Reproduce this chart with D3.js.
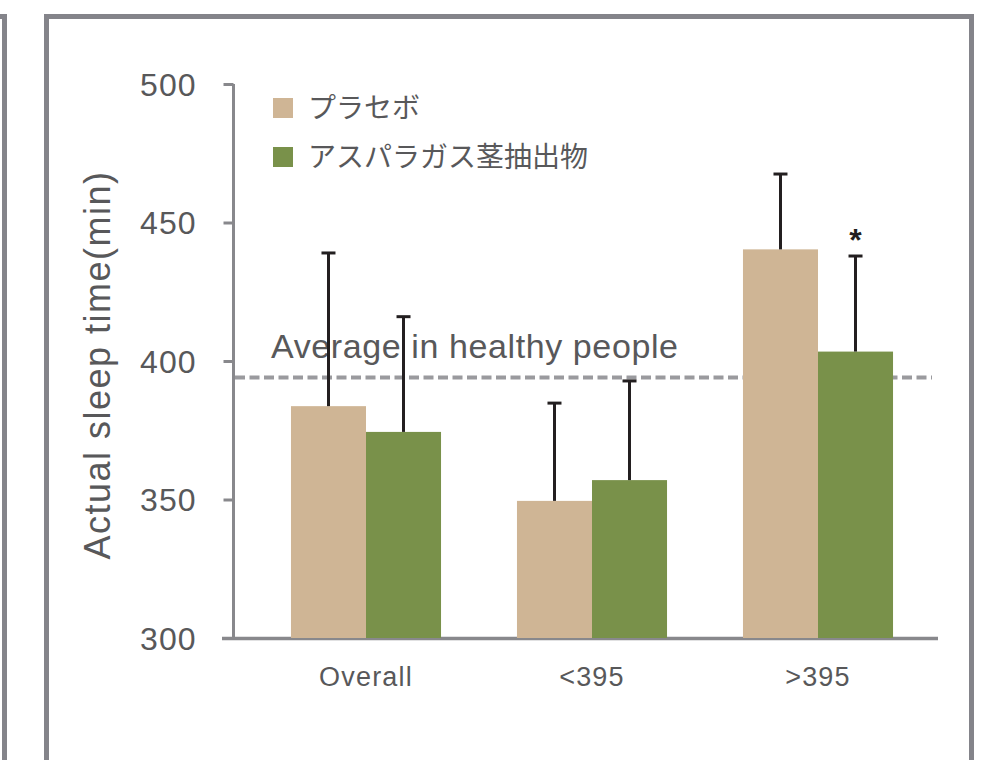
<!DOCTYPE html>
<html>
<head>
<meta charset="utf-8">
<script src="https://cdn.jsdelivr.net/npm/d3@7"></script>
<style>
  html, body { margin: 0; padding: 0; background: #fff; }
  svg text { font-family: "Liberation Sans", Arial, sans-serif; }
  .jp { font-family: "Noto Sans CJK JP", sans-serif; }
</style>
</head>
<body>
<svg id="svg" width="1005" height="760"></svg>
<script>
const categories = ["Overall", "<395", ">395"];
const seriesNames = ["プラセボ", "アスパラガス茎抽出物"];
const seriesColors = ["#cfb595", "#79914a"];
const placeboMeans = [383.7, 349.5, 440.3];
const placeboErr = [55.3, 35.3, 27.2];
const extractMeans = [374.4, 357.0, 403.4];
const extractErr = [41.6, 35.8, 34.5];
const extractSig = ["", "", "*"];
const healthyAverage = 394;
const yTicks = [300, 350, 400, 450, 500];

const svg = d3.select("#svg");
const textColor = "#58585a";
const axisColor = "#88888c";

// panel frames
svg.append("rect")
    .attr("x", 46.5).attr("y", 16.5)
    .attr("width", 925).attr("height", 800)
    .attr("fill", "none").attr("stroke", "#84848a").attr("stroke-width", 5);
svg.append("path")
    .attr("d", "M-5,16.5H4.5V770")
    .attr("fill", "none").attr("stroke", "#84848a").attr("stroke-width", 5);

// scales
const y = d3.scaleLinear().domain([300, 500]).range([638, 84]);
const x = d3.scaleBand().domain(categories)
    .range([253, 931]).paddingInner(0.336).paddingOuter(0.168);
const xSub = d3.scaleBand().domain([0, 1]).range([0, x.bandwidth()]);

const rows = categories.map((c, i) => ({
    cat: c,
    values: [
        { s: 0, mean: placeboMeans[i], err: placeboErr[i], sig: "" },
        { s: 1, mean: extractMeans[i], err: extractErr[i], sig: extractSig[i] }
    ]
}));

// y axis
const yAxis = svg.append("g")
    .attr("transform", "translate(233.5,0)")
    .call(d3.axisLeft(y).tickValues(yTicks).tickSize(10).tickPadding(0).tickFormat(d3.format("d")));
yAxis.select(".domain").attr("stroke", axisColor).attr("stroke-width", 3)
    .attr("d", "M0," + y(500) + "V" + y(300));
yAxis.selectAll(".tick line").attr("stroke", axisColor).attr("stroke-width", 3);
yAxis.selectAll(".tick text")
    .attr("x", -37)
    .attr("dy", "0.35em")
    .attr("fill", textColor)
    .style("font-size", "32px")
    .style("letter-spacing", "1px")
    .style("font-family", "'Liberation Sans', Arial, sans-serif");

// x axis
const xAxis = svg.append("g")
    .attr("transform", "translate(0," + (y(300) + 0.5) + ")")
    .call(d3.axisBottom(x).tickSize(0).tickPadding(0));
xAxis.select(".domain").attr("stroke", axisColor).attr("stroke-width", 3.5)
    .attr("d", "M222,0H938");
xAxis.selectAll(".tick text")
    .attr("y", 38)
    .attr("dy", "0.35em")
    .attr("fill", textColor)
    .style("font-size", "27px")
    .style("letter-spacing", "1.2px")
    .style("font-family", "'Liberation Sans', Arial, sans-serif");

// healthy average line
svg.append("line")
    .attr("x1", 235).attr("x2", 932)
    .attr("y1", y(healthyAverage)).attr("y2", y(healthyAverage))
    .attr("stroke", "#9a9a9e").attr("stroke-width", 4)
    .attr("stroke-dasharray", "10,4.5");
svg.append("text")
    .attr("x", 271).attr("y", y(healthyAverage) - 32)
    .attr("dy", "0.35em")
    .attr("fill", textColor)
    .style("font-size", "34px")
    .style("letter-spacing", "0.6px")
    .text("Average in healthy people");

// bars
const groups = svg.append("g").selectAll("g")
    .data(rows)
    .join("g")
    .attr("transform", d => "translate(" + x(d.cat) + ",0)");

groups.selectAll("rect")
    .data(d => d.values)
    .join("rect")
    .attr("x", d => xSub(d.s))
    .attr("y", d => y(d.mean))
    .attr("width", xSub.bandwidth())
    .attr("height", d => y(300) - y(d.mean))
    .attr("fill", d => seriesColors[d.s]);

// error bars
const err = groups.selectAll(".err")
    .data(d => d.values)
    .join("g")
    .attr("class", "err")
    .attr("transform", d => "translate(" + (xSub(d.s) + xSub.bandwidth() / 2) + ",0)");
err.append("line")
    .attr("x1", 0).attr("x2", 0)
    .attr("y1", d => y(d.mean))
    .attr("y2", d => y(d.mean + d.err))
    .attr("stroke", "#231f20").attr("stroke-width", 3);
err.append("line")
    .attr("x1", -7).attr("x2", 7)
    .attr("y1", d => y(d.mean + d.err))
    .attr("y2", d => y(d.mean + d.err))
    .attr("stroke", "#231f20").attr("stroke-width", 3);
err.append("text")
    .attr("text-anchor", "middle")
    .attr("y", d => y(d.mean + d.err) - 5)
    .attr("fill", "#231f20")
    .style("font-size", "32px")
    .style("font-weight", "bold")
    .text(d => d.sig);

// y title
svg.append("text")
    .attr("transform", "translate(110,365) rotate(-90)")
    .attr("text-anchor", "middle")
    .attr("fill", textColor)
    .style("font-size", "36px")
    .style("letter-spacing", "1.5px")
    .text("Actual sleep time(min)");

// legend
const legend = svg.append("g").selectAll("g")
    .data(seriesNames)
    .join("g")
    .attr("transform", (d, i) => "translate(273," + (98 + i * 49) + ")");
legend.append("rect")
    .attr("width", 20).attr("height", 20)
    .attr("fill", (d, i) => seriesColors[i]);
legend.append("text")
    .attr("class", "jp")
    .attr("x", 35).attr("y", 10)
    .attr("dy", "0.35em")
    .attr("fill", textColor)
    .style("font-size", "28px")
    .text(d => d);
</script>
</body>
</html>
